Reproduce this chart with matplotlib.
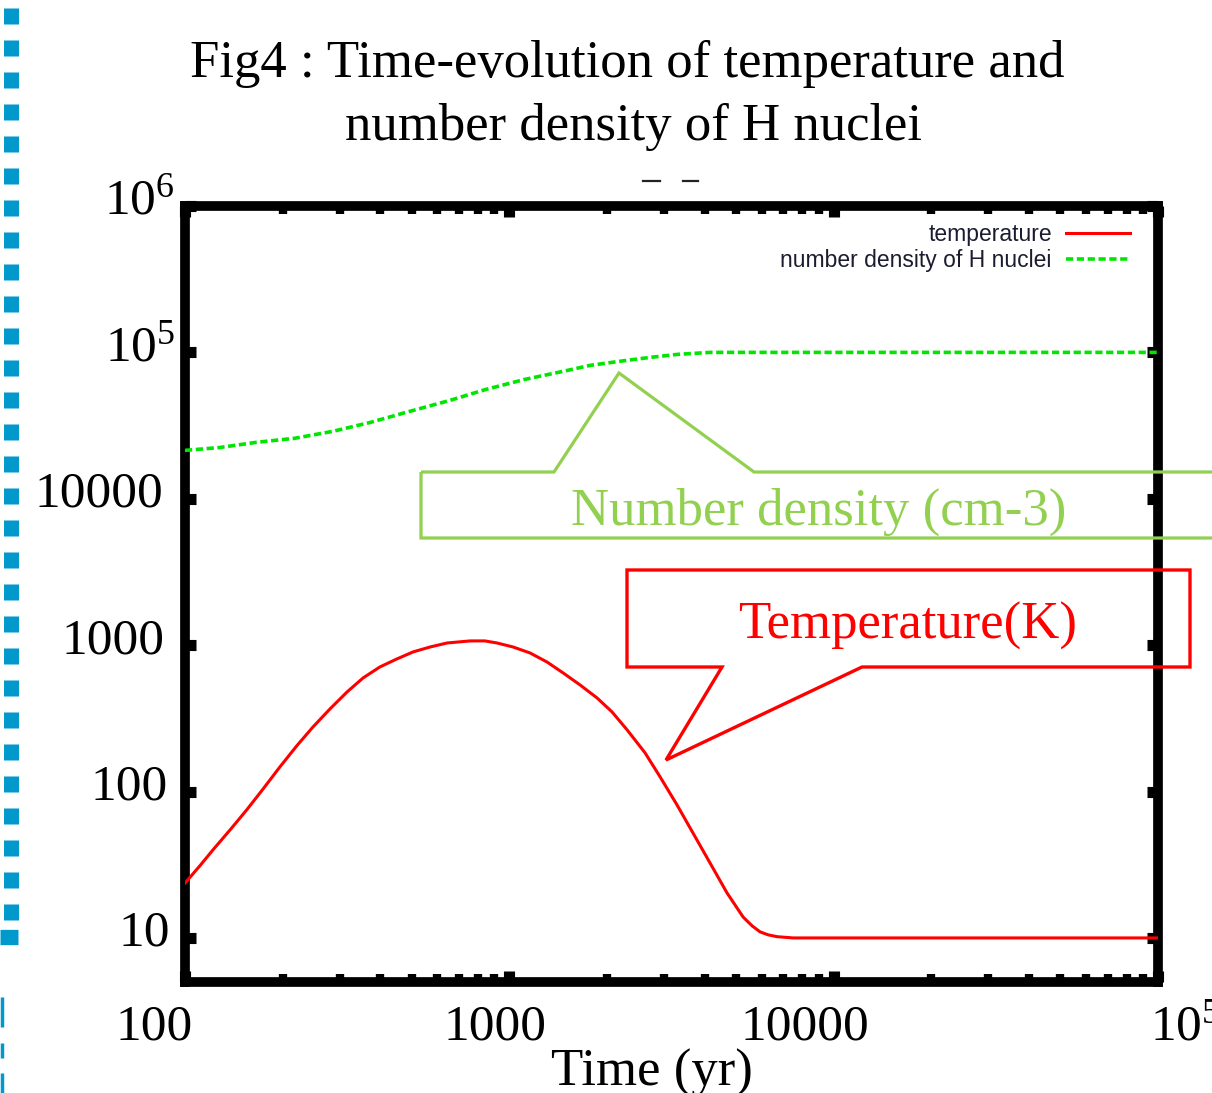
import numpy as np
import matplotlib
matplotlib.use("Agg")
import matplotlib.pyplot as plt
from matplotlib.lines import Line2D
from matplotlib.patches import Polygon
from matplotlib.ticker import FixedLocator, LogLocator, NullLocator, NullFormatter

# data
time_temp = [100, 111, 122, 138, 155, 174, 196, 221, 248, 280, 316, 354, 399, 450,
             505, 570, 643, 757, 841, 916, 1026, 1158, 1307, 1465, 1652, 1864, 2073,
             2307, 2620, 2916, 3289, 3685, 4158, 4690, 5257, 5603, 5931, 6280, 6690,
             7500, 100000]
temperature = [23.7, 31, 40, 55, 75, 104, 147, 205, 276, 367, 479, 597, 710, 805,
               899, 972, 1035, 1069, 1069, 1035, 972, 885, 767, 646, 535, 436, 350,
               264, 184, 126, 81, 52, 32.5, 20.3, 13.9, 12.1, 11.0, 10.5, 10.2,
               10, 10]

time_dens = [100, 128, 166, 218, 286, 372, 494, 656, 848, 1117, 1464, 1774, 2179,
             2716, 3301, 4158, 100000]
density = [21400, 22400, 24300, 25900, 28900, 33200, 39600, 47000, 55900, 65400,
           74200, 81500, 86800, 92400, 96900, 100000, 100000]

xticks = [100, 1000, 10000, 100000]
xticklabels = ["100", "1000", "10000", r"$\mathrm{10^{5}}$"]
yticks = [10, 100, 1000, 10000, 1e5, 1e6]
yticklabels = ["10", "100", "1000", "10000", r"$\mathrm{10^{5}}$", r"$\mathrm{10^{6}}$"]

title_lines = ["Fig4 : Time-evolution of temperature and", "number density of H nuclei"]
xlabel = "Time (yr)"
note_density = "Number density (cm-3)"
note_temp = "Temperature(K)"

W, H = 1212, 1093
plt.rcParams["font.family"] = "Liberation Serif"
plt.rcParams["mathtext.fontset"] = "custom"
plt.rcParams["mathtext.rm"] = "Liberation Serif"


def fx(x):
    return x / W


def fy(y):
    return 1 - y / H


fig = plt.figure(figsize=(W / 100, H / 100), dpi=100)
ax = fig.add_axes([fx(185), fy(982), 973 / W, 776 / H])

ax.plot(time_temp, temperature, color="#ff0000", lw=2.2, label="temperature", zorder=3)
ax.plot(time_dens, density, color="#00e600", lw=2.6, dashes=(2, 1),
        label="number density of H nuclei", zorder=3)

ax.set_xscale("log")
ax.set_yscale("log")
ax.set_xlim(100, 1e5)
ax.set_ylim(5, 1e6)

ax.xaxis.set_major_locator(FixedLocator(xticks))
ax.yaxis.set_major_locator(FixedLocator(yticks))
ax.xaxis.set_minor_locator(LogLocator(subs=np.arange(2, 10)))
ax.xaxis.set_minor_formatter(NullFormatter())
ax.yaxis.set_minor_locator(NullLocator())
ax.tick_params(which="both", direction="in", top=True, right=True,
               labelbottom=False, labelleft=False)
ax.tick_params(which="major", length=8, width=8)
ax.tick_params(which="minor", length=5.5, width=6)
for s in ax.spines.values():
    s.set_linewidth(7)

# tick labels (slide overlay, slightly shifted from the ticks)
x_off = [-31, -14, -29, 27]
for v, lab, dx in zip(xticks, xticklabels, x_off):
    ax.annotate(lab, xy=(v, 0), xycoords=("data", "axes fraction"),
                xytext=(dx, -58), textcoords="offset pixels",
                ha="center", va="baseline", fontsize=37, annotation_clip=False)
y_off = [-15, -17, -20, -22, -10, -10]
for v, lab, dx in zip(yticks, yticklabels, y_off):
    ax.annotate(lab, xy=(0, v), xycoords=("axes fraction", "data"),
                xytext=(dx, -8), textcoords="offset pixels",
                ha="right", va="baseline", fontsize=37, annotation_clip=False)

leg = ax.legend(loc="upper right", bbox_to_anchor=(0.971, 0.978), markerfirst=False,
                frameon=False, handlelength=2.8, handletextpad=0.6, labelspacing=0.12,
                borderpad=0, borderaxespad=0,
                prop={"family": "Liberation Sans", "size": 16.5})
for t in leg.get_texts():
    t.set_color("#1c1c30")

# title and axis label
fig.text(fx(627), fy(77), title_lines[0], ha="center", va="baseline", fontsize=38)
fig.text(fx(634), fy(140), title_lines[1], ha="center", va="baseline", fontsize=38)
fig.text(fx(652), fy(1086), xlabel, ha="center", va="baseline", fontsize=38)

# callouts
green = "#92d050"
green_box = [(421, 472), (554, 472), (619, 373), (754, 472), (1240, 472),
             (1240, 538), (421, 538)]
fig.patches.append(Polygon([(fx(x), fy(y)) for x, y in green_box], closed=True,
                           fill=False, edgecolor=green, lw=2.3,
                           transform=fig.transFigure, figure=fig, zorder=5))
fig.text(fx(819), fy(525), note_density, color=green, ha="center", va="baseline",
         fontsize=38, zorder=6)

red_box = [(627, 570), (1190, 570), (1190, 667), (862, 667), (666, 760),
           (722, 667), (627, 667)]
fig.patches.append(Polygon([(fx(x), fy(y)) for x, y in red_box], closed=True,
                           fill=False, edgecolor="#ff0000", lw=2.4, joinstyle="miter",
                           transform=fig.transFigure, figure=fig, zorder=5))
fig.text(fx(908), fy(639), note_temp, color="#ff0000", ha="center", va="baseline",
         fontsize=38, zorder=6)

# slide decorations
blue = "#0099cc"
fig.add_artist(Line2D([fx(10.5), fx(10.5)], [fy(8), fy(920)], color=blue, lw=10.8,
                      dashes=(16 / 15, 16 / 15), transform=fig.transFigure))
fig.add_artist(Line2D([fx(0), fx(18)], [fy(937), fy(937)], color=blue, lw=11,
                      solid_capstyle="butt", transform=fig.transFigure))
for y0, y1 in [(997, 1027), (1043, 1058), (1073, 1093)]:
    fig.add_artist(Line2D([fx(1.5), fx(1.5)], [fy(y0), fy(y1)], color=blue, lw=2.5,
                          solid_capstyle="butt", transform=fig.transFigure))
for x0, x1 in [(643, 660), (683, 698)]:
    fig.add_artist(Line2D([fx(x0), fx(x1)], [fy(181), fy(181)], color="#222222",
                          lw=1.6, transform=fig.transFigure))

fig.savefig("out.png", dpi=100)
